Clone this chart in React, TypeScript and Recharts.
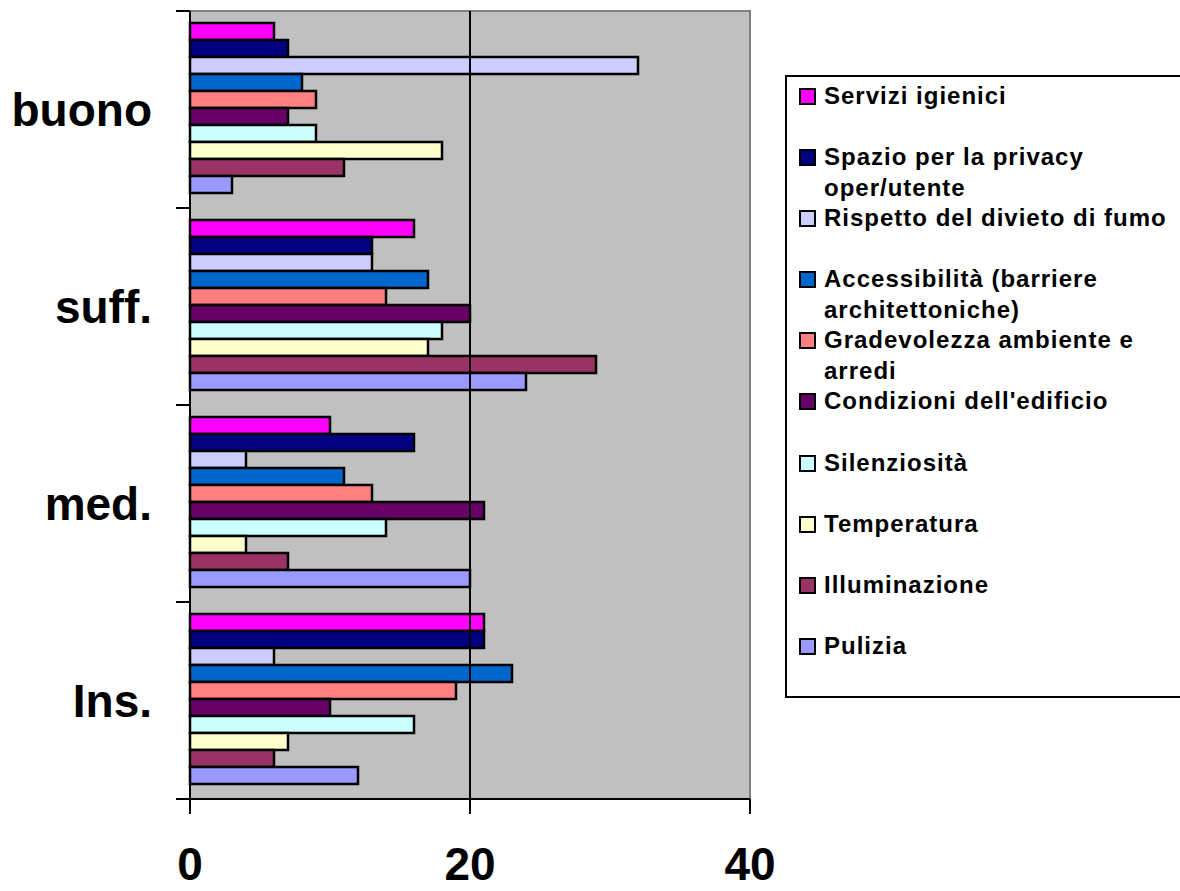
import React from "react";
import { BarChart, Bar, XAxis, YAxis, CartesianGrid, ReferenceLine, ReferenceArea } from "recharts";

const categories = ["buono", "suff.", "med.", "Ins."];

const serviziIgienici = [6, 16, 10, 21];
const spazioPrivacy = [7, 13, 16, 21];
const rispettoFumo = [32, 13, 4, 6];
const accessibilita = [8, 17, 11, 23];
const gradevolezza = [9, 14, 13, 19];
const condizioniEdificio = [7, 20, 21, 10];
const silenziosita = [9, 18, 14, 16];
const temperatura = [18, 17, 4, 7];
const illuminazione = [11, 29, 7, 6];
const pulizia = [3, 24, 20, 12];

const seriesNames = [
  "Servizi igienici",
  "Spazio per la privacy oper/utente",
  "Rispetto del divieto di fumo",
  "Accessibilità (barriere architettoniche)",
  "Gradevolezza ambiente e arredi",
  "Condizioni dell'edificio",
  "Silenziosità",
  "Temperatura",
  "Illuminazione",
  "Pulizia",
];
const seriesValues = [
  serviziIgienici, spazioPrivacy, rispettoFumo, accessibilita, gradevolezza,
  condizioniEdificio, silenziosita, temperatura, illuminazione, pulizia,
];
const seriesColors = [
  "#FF00FF", "#000080", "#CCCCFF", "#0066CC", "#FF8080",
  "#660066", "#CCFFFF", "#FFFFCC", "#993366", "#9999FF",
];

const xTicks = [0, 20, 40];

const FONT = "'Liberation Sans', Arial, sans-serif";

// one row per category, one column per series (s0..s9)
const rows = categories.map((name, i) => {
  const row: Record<string, string | number> = { name };
  seriesValues.forEach((vals, s) => (row["s" + s] = vals[i]));
  return row;
});

// category label + tick marks on the band edges (payload.offset = half band)
const CategoryTick = (props: any) => {
  const { x, y, payload } = props;
  const half = payload.offset || 0;
  const last = payload.index === categories.length - 1;
  return (
    <g>
      <line x1={x - 14} x2={x} y1={y - half} y2={y - half} stroke="#000" strokeWidth={2} />
      {last && <line x1={x - 14} x2={x} y1={y + half} y2={y + half} stroke="#000" strokeWidth={2} />}
      <text
        x={x - 38}
        y={y}
        dy="0.355em"
        textAnchor="end"
        fill="#000"
        fontSize={46}
        fontWeight="bold"
        fontFamily={FONT}
      >
        {payload.value}
      </text>
    </g>
  );
};

const App: React.FC = () => {
  return (
    <div
      style={{
        position: "absolute", left: 0, top: 0, width: 1180, height: 891,
        overflow: "hidden", background: "#fff", fontFamily: FONT,
      }}
    >
      <BarChart
        width={1180}
        height={891}
        data={rows}
        layout="vertical"
        margin={{ top: 11, right: 430, bottom: 0, left: 0 }}
        barCategoryGap={12}
        barGap={0}
      >
        <CartesianGrid horizontal={false} vertical={false} fill="#C0C0C0" />
        <ReferenceArea x1={0} x2={40} fill="none" stroke="#808080" strokeWidth={2} />
        <ReferenceLine x={20} stroke="#000" strokeWidth={2} />
        <XAxis
          type="number"
          domain={[0, 40]}
          ticks={xTicks}
          height={92}
          tickSize={15}
          tickMargin={33}
          axisLine={{ stroke: "#000", strokeWidth: 2 }}
          tickLine={{ stroke: "#000", strokeWidth: 2 }}
          tick={{ fill: "#000", fontSize: 46, fontWeight: "bold", fontFamily: FONT }}
        />
        <YAxis
          type="category"
          dataKey="name"
          width={190}
          tickSize={0}
          tickMargin={0}
          axisLine={{ stroke: "#000", strokeWidth: 2 }}
          tickLine={false}
          tick={<CategoryTick />}
        />
        {seriesNames.map((n, s) => (
          <Bar
            key={n}
            dataKey={"s" + s}
            name={n}
            fill={seriesColors[s]}
            stroke="#000"
            strokeWidth={2.5}
            isAnimationActive={false}
          />
        ))}
      </BarChart>

      {/* legend */}
      <div
        style={{
          position: "absolute", left: 785, top: 75, width: 420,
          border: "2px solid #000", padding: "4px 0 4px 12px",
          background: "#fff", boxSizing: "border-box",
        }}
      >
        {seriesNames.map((n, s) => (
          <div key={n} style={{ position: "relative", height: 61.1 }}>
            <div
              style={{
                position: "absolute", left: 0, top: 7, width: 17, height: 17,
                boxSizing: "border-box", border: "2px solid #000", background: seriesColors[s],
              }}
            />
            <div
              style={{
                position: "absolute", left: 25, top: 0, width: 352,
                fontSize: 24, letterSpacing: 1, fontWeight: "bold",
                lineHeight: "30.5px", color: "#000",
              }}
            >
              {n}
            </div>
          </div>
        ))}
      </div>
    </div>
  );
};

export default App;
